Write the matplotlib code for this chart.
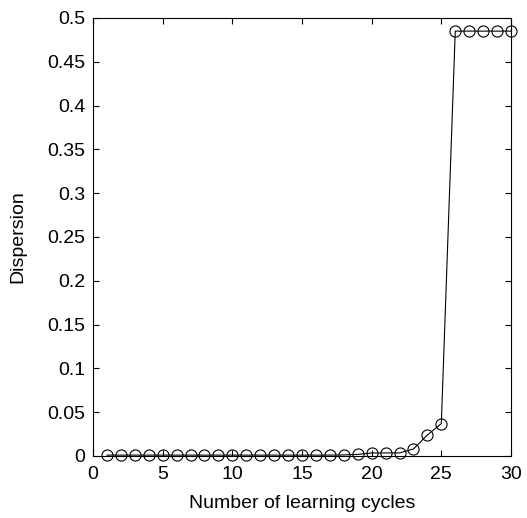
import matplotlib
matplotlib.use("Agg")
import matplotlib.pyplot as plt

cycles = list(range(1, 31))
dispersion = [0.001, 0.001, 0.001, 0.001, 0.001, 0.001, 0.001, 0.001, 0.001, 0.001,
              0.001, 0.001, 0.001, 0.001, 0.001, 0.001, 0.001, 0.0012, 0.0018, 0.0035,
              0.0035, 0.0035, 0.008, 0.024, 0.037, 0.485, 0.485, 0.485, 0.485, 0.485]
xticks = [0, 5, 10, 15, 20, 25, 30]
yticks = [0, 0.05, 0.1, 0.15, 0.2, 0.25, 0.3, 0.35, 0.4, 0.45, 0.5]
ytick_labels = ["0", "0.05", "0.1", "0.15", "0.2", "0.25", "0.3", "0.35", "0.4", "0.45", "0.5"]

plt.rcParams['font.family'] = ['Liberation Sans', 'DejaVu Sans']
fig = plt.figure(figsize=(5.27, 5.18), dpi=100)
ax = fig.add_axes([0.1765, 0.1197, 0.7931, 0.8456])
ax.plot(cycles, dispersion, '-o', color='black', linewidth=0.8,
        markersize=8, markerfacecolor='none', markeredgewidth=0.8, clip_on=False, zorder=3)
ax.set_xlim(0, 30)
ax.set_ylim(0, 0.5)
ax.set_xticks(xticks)
ax.set_yticks(yticks)
ax.set_yticklabels(ytick_labels)
ax.tick_params(direction='in', top=True, right=True, labelsize=14, length=4, width=0.8)
ax.tick_params(axis='x', pad=7)
ax.tick_params(axis='y', pad=5.5)
for s in ax.spines.values():
    s.set_linewidth(0.8)
ax.set_xlabel("Number of learning cycles", fontsize=14, labelpad=9)
ax.set_ylabel("Dispersion", fontsize=14, labelpad=15)
fig.savefig("out.png", dpi=100)
